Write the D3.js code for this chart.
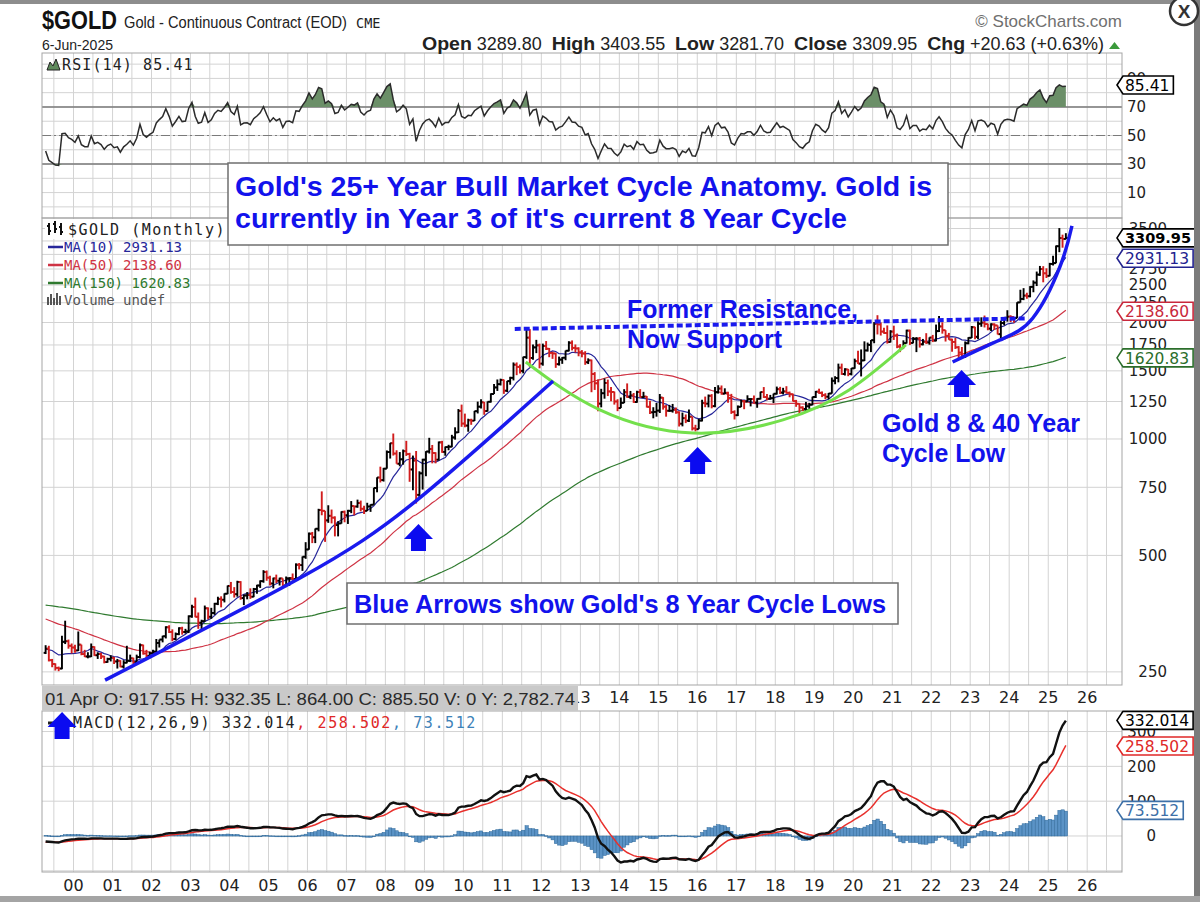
<!DOCTYPE html>
<html>
<head>
<meta charset="utf-8">
<script src="https://cdn.jsdelivr.net/npm/d3@7"></script>
<style>
    body { margin: 0; background: #fff; }
    svg { display: block; font-family: "Liberation Sans", Arial, sans-serif; }
    .mono { font-family: "DejaVu Sans Mono", monospace; }
    .axis-num { font-family: "DejaVu Sans", sans-serif; fill: #222; }
</style>
</head>
<body>
<div id="chart"></div>
<script>

// monthly closes used only to warm up MA(150), RSI and MACD (Jan 1986 - Mar 1999)
const warmupCloses = [
    345, 339, 345, 340, 343, 345, 357, 385, 424, 402, 386, 391,
    405, 405, 421, 453, 451, 448, 463, 453, 460, 468, 492, 484,
    458, 426, 457, 451, 455, 436, 437, 430, 397, 412, 421, 410,
    394, 387, 384, 377, 361, 373, 368, 359, 366, 375, 409, 401,
    415, 407, 368, 367, 363, 352, 372, 387, 408, 380, 384, 386,
    366, 363, 356, 357, 361, 368, 362, 347, 354, 358, 366, 353,
    354, 353, 341, 336, 337, 343, 357, 340, 349, 339, 334, 333,
    330, 327, 337, 355, 378, 378, 401, 372, 355, 369, 370, 391,
    378, 381, 390, 376, 387, 386, 384, 385, 395, 383, 383, 383,
    375, 376, 392, 390, 385, 387, 383, 383, 384, 382, 387, 387,
    405, 400, 396, 392, 390, 382, 386, 387, 379, 379, 371, 369,
    345, 358, 348, 340, 345, 334, 326, 325, 332, 311, 296, 290,
    304, 297, 301, 310, 293, 296, 288, 273, 293, 292, 294, 288,
    287, 288, 280
]

// plotted monthly bars, Apr 1999 - Jun 2025
const firstMonth = "1999-04"
const closes = [
    287, 268, 262, 256, 255, 299, 300, 292, 289,
    284, 294, 278, 274, 274, 290, 276, 278, 274, 265, 270, 272,
    266, 267, 258, 264, 267, 271, 265, 273, 293, 279, 275, 279,
    282, 297, 303, 309, 326, 317, 304, 313, 324, 317, 318, 348,
    368, 347, 335, 338, 365, 347, 355, 375, 386, 384, 398, 417,
    402, 397, 427, 388, 394, 395, 391, 409, 418, 429, 453, 438,
    423, 436, 430, 436, 418, 436, 437, 434, 473, 472, 496, 518,
    569, 557, 586, 655, 652, 616, 633, 626, 599, 605, 648, 635,
    652, 671, 669, 683, 660, 652, 669, 676, 747, 795, 783, 838,
    925, 975, 917, 863, 886, 930, 914, 834, 880, 717, 815, 884,
    928, 942, 920, 884, 980, 926, 953, 955, 1009, 1040, 1182, 1096,
    1083, 1118, 1115, 1180, 1212, 1244, 1181, 1248, 1307, 1359, 1386, 1421,
    1333, 1411, 1439, 1556, 1536, 1500, 1628, 1828, 1620, 1725, 1746, 1566,
    1740, 1711, 1669, 1664, 1561, 1604, 1622, 1691, 1773, 1720, 1714, 1675,
    1663, 1579, 1597, 1472, 1393, 1234, 1313, 1396, 1327, 1323, 1250, 1202,
    1240, 1321, 1284, 1296, 1246, 1322, 1283, 1287, 1211, 1172, 1175, 1184,
    1279, 1212, 1183, 1183, 1190, 1172, 1095, 1132, 1115, 1142, 1065, 1060,
    1116, 1238, 1234, 1293, 1216, 1321, 1350, 1309, 1316, 1277, 1174, 1152,
    1211, 1252, 1249, 1268, 1268, 1242, 1270, 1322, 1283, 1271, 1275, 1309,
    1345, 1318, 1327, 1316, 1305, 1253, 1233, 1206, 1196, 1215, 1226, 1284,
    1325, 1316, 1298, 1286, 1311, 1414, 1437, 1529, 1472, 1513, 1473, 1523,
    1589, 1566, 1596, 1694, 1751, 1800, 1986, 1978, 1895, 1879, 1781, 1895,
    1850, 1734, 1716, 1769, 1906, 1771, 1817, 1818, 1757, 1784, 1776, 1829,
    1796, 1900, 1954, 1911, 1848, 1807, 1782, 1726, 1672, 1640, 1768, 1826,
    1945, 1837, 1986, 1999, 1982, 1929, 1978, 1966, 1866, 1994, 2057, 2071,
    2067, 2054, 2254, 2302, 2348, 2339, 2473, 2536, 2660, 2749, 2681, 2641,
    2835, 2848, 3150, 3306, 3289, 3310
]
const highs = [
    293, 292, 270, 263, 258, 310, 339, 303, 296,
    294, 318, 294, 285, 281, 296, 291, 281, 280, 275, 272, 276,
    273, 270, 268, 268, 292, 277, 272, 277, 296, 294, 285, 282,
    285, 304, 303, 310, 328, 330, 322, 316, 326, 327, 323, 350,
    373, 389, 356, 341, 371, 367, 366, 377, 391, 392, 399, 418,
    427, 414, 430, 429, 396, 402, 411, 412, 420, 431, 458, 457,
    443, 438, 446, 438, 436, 441, 439, 449, 477, 478, 497, 541,
    573, 575, 587, 660, 732, 652, 674, 657, 631, 613, 650, 653,
    656, 691, 672, 697, 693, 672, 684, 678, 748, 796, 848, 842,
    934, 977, 1033, 935, 925, 939, 989, 921, 906, 931, 825, 889,
    930, 1007, 965, 924, 985, 989, 956, 966, 1025, 1072, 1195, 1227,
    1163, 1128, 1128, 1182, 1249, 1266, 1246, 1250, 1312, 1388, 1425, 1432,
    1424, 1413, 1448, 1577, 1577, 1557, 1632, 1917, 1923, 1755, 1804, 1764,
    1764, 1791, 1719, 1682, 1669, 1633, 1629, 1693, 1790, 1798, 1755, 1726,
    1697, 1686, 1616, 1604, 1489, 1425, 1348, 1434, 1424, 1362, 1326, 1267,
    1280, 1345, 1392, 1331, 1315, 1332, 1345, 1324, 1291, 1255, 1208, 1239,
    1307, 1283, 1224, 1225, 1232, 1206, 1179, 1170, 1157, 1192, 1143, 1088,
    1128, 1263, 1287, 1303, 1306, 1362, 1377, 1375, 1352, 1325, 1308, 1186,
    1221, 1264, 1261, 1297, 1275, 1296, 1275, 1325, 1362, 1306, 1300, 1310,
    1366, 1364, 1356, 1369, 1326, 1310, 1262, 1236, 1215, 1247, 1240, 1286,
    1331, 1349, 1327, 1313, 1315, 1442, 1453, 1566, 1566, 1524, 1517, 1526,
    1613, 1691, 1704, 1788, 1775, 1802, 2005, 2089, 2001, 1940, 1966, 1911,
    1963, 1873, 1759, 1799, 1917, 1917, 1834, 1833, 1835, 1814, 1877, 1831,
    1858, 1976, 2078, 2003, 1909, 1880, 1817, 1824, 1738, 1729, 1787, 1833,
    1959, 1949, 2014, 2063, 2085, 1987, 1990, 1991, 1954, 2022, 2067, 2152,
    2088, 2068, 2256, 2431, 2454, 2388, 2484, 2570, 2709, 2801, 2797, 2762,
    2853, 2974, 3163, 3509, 3374, 3404
]
const lows = [
    278, 266, 257, 252, 251, 254, 295, 287, 279,
    280, 283, 276, 273, 271, 273, 275, 270, 270, 263, 264, 266,
    262, 255, 257, 255, 263, 265, 262, 264, 271, 277, 271, 271,
    277, 281, 289, 298, 305, 315, 300, 302, 311, 312, 314, 315,
    345, 346, 323, 320, 337, 342, 343, 351, 372, 367, 378, 397,
    398, 389, 391, 384, 372, 385, 386, 390, 398, 412, 425, 430,
    418, 411, 424, 418, 414, 414, 417, 430, 432, 460, 456, 490,
    517, 538, 538, 577, 635, 542, 607, 605, 560, 560, 604, 609,
    603, 643, 635, 664, 650, 640, 651, 648, 676, 728, 772, 776,
    840, 890, 906, 867, 850, 858, 904, 775, 737, 681, 700, 740,
    801, 917, 865, 865, 880, 921, 905, 935, 952, 996, 1036, 1075,
    1072, 1044, 1088, 1113, 1164, 1198, 1155, 1177, 1242, 1308, 1331, 1375,
    1308, 1322, 1381, 1417, 1462, 1477, 1478, 1611, 1534, 1603, 1667, 1523,
    1547, 1698, 1627, 1611, 1527, 1548, 1564, 1598, 1684, 1694, 1673, 1636,
    1626, 1555, 1562, 1321, 1339, 1180, 1207, 1271, 1291, 1251, 1227, 1180,
    1202, 1238, 1277, 1268, 1240, 1240, 1281, 1276, 1206, 1161, 1131, 1142,
    1167, 1191, 1142, 1175, 1170, 1162, 1077, 1078, 1099, 1107, 1052, 1046,
    1062, 1110, 1208, 1207, 1200, 1207, 1310, 1302, 1306, 1241, 1161, 1123,
    1146, 1209, 1194, 1245, 1214, 1237, 1204, 1265, 1277, 1260, 1264, 1238,
    1303, 1307, 1303, 1310, 1282, 1250, 1211, 1160, 1180, 1182, 1197, 1222,
    1276, 1308, 1283, 1267, 1267, 1310, 1385, 1401, 1465, 1459, 1453, 1460,
    1519, 1563, 1451, 1590, 1683, 1677, 1768, 1863, 1851, 1871, 1764, 1776,
    1803, 1717, 1677, 1714, 1765, 1750, 1767, 1677, 1723, 1746, 1761, 1753,
    1780, 1788, 1890, 1872, 1786, 1805, 1681, 1709, 1615, 1618, 1620, 1757,
    1824, 1811, 1810, 1950, 1942, 1910, 1902, 1913, 1863, 1823, 1966, 2010,
    2006, 1996, 2052, 2251, 2285, 2304, 2324, 2395, 2485, 2640, 2541, 2607,
    2633, 2807, 2856, 3040, 3122, 3282
]

// axis ticks (3000 and 3250 sit under the value tags, so they only get gridlines)
const priceGrid = [250, 500, 750, 1000, 1250, 1500, 1750, 2000, 2250, 2500, 2750, 3000, 3250, 3500]
const priceLabels = [250, 500, 750, 1000, 1250, 1500, 1750, 2000, 2250, 2500, 2750, 3500]
const rsiTicks = [10, 30, 50, 70, 90]
const macdTicks = [0, 100, 200, 300]

// last values shown in the tags on the right
const priceTags = [["3309.95", 3309.95, "#000", true], ["2931.13", 2931.13, "#23238f", false],
                   ["2138.60", 2138.60, "#c8283c", false], ["1620.83", 1620.83, "#2b6e2b", false]]
const rsiTags = [["85.41", 85.41, "#000"]]
const macdTags = [["332.014", 332.014, "#000"], ["258.502", 258.502, "#e02828"], ["73.512", 73.512, "#3d70a8"]]

// hand drawn annotations, in (date, price) space
const cycleLine1 = [["2000-10-23", 238], ["2005-10-23", 437], ["2008-10-23", 695], ["2012-04-20", 1412]]
const cycleLine2 = [["2022-07-20", 1581], ["2023-10-08", 1803], ["2024-08-10", 2055], ["2025-04-20", 2784], ["2025-08-11", 3553]]
const roundingBottom = [["2011-08-08", 1581], ["2013-07-02", 1189], ["2015-11-24", 1036], ["2018-03-14", 1120], ["2019-11-24", 1339], ["2021-05-08", 1750]]
const resistanceLine = [["2011-04-27", 1925], ["2024-06-10", 2050]]
const cycleLowArrows = [["2008-11-06", 603], ["2016-01-04", 953], ["2022-10-12", 1508]]
const macdArrow = [["1999-09-16", 356]]

const parseDay = d3.timeParse("%Y-%m-%d")

function sma(vals, n) {
    return vals.map((v, i) => i < n - 1 ? null : d3.mean(vals.slice(i - n + 1, i + 1)))
}
function ema(vals, n) {
    const k = 2 / (n + 1)
    let prev = null
    return vals.map(v => {
        if (v == null) return null
        prev = prev == null ? v : v * k + prev * (1 - k)
        return prev
    })
}
function rsi(vals, n) {
    const out = vals.map(() => null)
    let g = 0, l = 0
    for (let i = 1; i <= n; i++) {
        const d = vals[i] - vals[i - 1]
        if (d > 0) g += d; else l -= d
    }
    g /= n; l /= n
    out[n] = 100 - 100 / (1 + g / l)
    for (let i = n + 1; i < vals.length; i++) {
        const d = vals[i] - vals[i - 1]
        g = (g * (n - 1) + Math.max(d, 0)) / n
        l = (l * (n - 1) + Math.max(-d, 0)) / n
        out[i] = l === 0 ? 100 : 100 - 100 / (1 + g / l)
    }
    return out
}

function drawChart() {
    const width = 1200
    const height = 902
    const plot = { left: 42, right: 1122 }
    const rsiBox = { top: 53, bottom: 218 }
    const priceBox = { top: 218, bottom: 685 }
    const macdBox = { top: 711, bottom: 872 }
    const annoBlue = "#1212ec"
    const hoverBarEnd = 578

    const svg = d3.select("#chart").append("svg")
        .attr("width", width)
        .attr("height", height)

    // indicators on the full history, then keep the plotted window
    const allCloses = warmupCloses.concat(closes)
    const off = warmupCloses.length
    const start = d3.timeParse("%Y-%m")(firstMonth)
    const months = closes.map((c, i) => d3.timeMonth.offset(start, i))
    const mid = d => d3.timeDay.offset(d, 14)

    const ma10 = sma(allCloses, 10).slice(off)
    const ma50 = sma(allCloses, 50).slice(off)
    const ma150 = sma(allCloses, 150).slice(off)
    const rsiVals = rsi(allCloses, 14).slice(off)
    const e12 = ema(allCloses, 12), e26 = ema(allCloses, 26)
    const macdAll = e12.map((v, i) => v - e26[i])
    const sigAll = ema(macdAll, 9)
    const macdVals = macdAll.slice(off)
    const sigVals = sigAll.slice(off)
    const histVals = macdVals.map((v, i) => v - sigVals[i])

    // scales
    const x = d3.scaleTime()
        .domain([new Date(1999, 2, 12), new Date(2026, 10, 23)])
        .range([plot.left, plot.right])
    const yRsi = d3.scaleLinear().domain([-7.8, 107.8]).range([rsiBox.bottom, rsiBox.top])
    const yPrice = d3.scaleLog().domain([231.2, 3726]).range([priceBox.bottom, priceBox.top])
    const yMacd = d3.scaleLinear().domain([-103.4, 359]).range([macdBox.bottom, macdBox.top])

    const gridDates = d3.timeMonth.every(6).range(x.domain()[0], x.domain()[1])
    const yearDates = d3.timeYear.range(new Date(2000, 0, 1), new Date(2027, 0, 1))

    const defs = svg.append("defs")
    function panel(box, id, hTicks, yScale) {
        defs.append("clipPath").attr("id", id)
            .append("rect").attr("x", plot.left).attr("y", box.top)
            .attr("width", plot.right - plot.left).attr("height", box.bottom - box.top)
        const g = svg.append("g")
        g.append("rect").attr("x", plot.left).attr("y", box.top)
            .attr("width", plot.right - plot.left).attr("height", box.bottom - box.top)
            .attr("fill", "#fff")
        g.selectAll(".vgrid").data(gridDates).join("line")
            .attr("x1", d => x(d)).attr("x2", d => x(d))
            .attr("y1", box.top).attr("y2", box.bottom)
            .attr("stroke", "#d3d3d3").attr("stroke-width", 1)
        g.selectAll(".hgrid").data(hTicks).join("line")
            .attr("x1", plot.left).attr("x2", plot.right)
            .attr("y1", d => yScale(d)).attr("y2", d => yScale(d))
            .attr("stroke", "#d3d3d3").attr("stroke-width", 1)
        return g
    }

    // ---------- RSI panel ----------
    panel(rsiBox, "clip-rsi", d3.range(0, 101, 10), yRsi)
    const rsiPlot = svg.append("g").attr("clip-path", "url(#clip-rsi)")
    ;[70, 30].forEach(v => rsiPlot.append("line")
        .attr("x1", plot.left).attr("x2", plot.right)
        .attr("y1", yRsi(v)).attr("y2", yRsi(v))
        .attr("stroke", "#7a7a7a").attr("stroke-width", 1.4))
    rsiPlot.append("line")
        .attr("x1", plot.left).attr("x2", plot.right)
        .attr("y1", yRsi(50)).attr("y2", yRsi(50))
        .attr("stroke", "#7a7a7a").attr("stroke-width", 1.2)
        .attr("stroke-dasharray", "9,3,2,3")
    rsiPlot.append("path")
        .datum(rsiVals)
        .attr("d", d3.area()
            .x((d, i) => x(mid(months[i])))
            .y0(yRsi(70))
            .y1(d => yRsi(Math.max(d, 70))))
        .attr("fill", "#6b8f68")
    rsiPlot.append("path")
        .datum(rsiVals)
        .attr("d", d3.area()
            .x((d, i) => x(mid(months[i])))
            .y0(yRsi(30))
            .y1(d => yRsi(Math.min(d, 30))))
        .attr("fill", "#6b8f68")
    rsiPlot.append("path")
        .datum(rsiVals)
        .attr("d", d3.line().x((d, i) => x(mid(months[i]))).y(d => yRsi(d)))
        .attr("fill", "none").attr("stroke", "#2b2b2b").attr("stroke-width", 1.5)

    // ---------- price panel ----------
    panel(priceBox, "clip-price", priceGrid, yPrice)
    const pricePlot = svg.append("g").attr("clip-path", "url(#clip-price)")

    const maLine = d3.line()
        .defined(d => d != null)
        .x((d, i) => x(mid(months[i])))
        .y(d => yPrice(d))
    ;[[ma150, "#2f7a2f"], [ma50, "#cf3344"], [ma10, "#26269a"]].forEach(([vals, col]) =>
        pricePlot.append("path").datum(vals).attr("d", maLine)
            .attr("fill", "none").attr("stroke", col).attr("stroke-width", 1.2))

    const bars = closes.map((c, i) => {
        const o = allCloses[off + i - 1]
        return {
            date: mid(months[i]), open: o, close: c,
            high: Math.max(highs[i], o, c), low: Math.min(lows[i], o, c),
            up: c >= o
        }
    })
    const barG = pricePlot.selectAll(".bar").data(bars).join("g")
        .attr("stroke", d => d.up ? "#000" : "#d11d1d")
        .attr("stroke-width", 1.9)
    barG.append("line")
        .attr("x1", d => x(d.date)).attr("x2", d => x(d.date))
        .attr("y1", d => yPrice(d.high)).attr("y2", d => yPrice(d.low))
    barG.append("line")
        .attr("x1", d => x(d.date) - 2).attr("x2", d => x(d.date))
        .attr("y1", d => yPrice(d.open)).attr("y2", d => yPrice(d.open))
    barG.append("line")
        .attr("x1", d => x(d.date)).attr("x2", d => x(d.date) + 2)
        .attr("y1", d => yPrice(d.close)).attr("y2", d => yPrice(d.close))

    // annotations on the price panel
    const annoLine = d3.line()
        .x(d => x(parseDay(d[0])))
        .y(d => yPrice(d[1]))
        .curve(d3.curveNatural)
    pricePlot.append("path").datum(roundingBottom).attr("d", annoLine)
        .attr("fill", "none").attr("stroke", "#74e04c").attr("stroke-width", 3)
    pricePlot.append("path").datum(cycleLine1).attr("d", annoLine)
        .attr("fill", "none").attr("stroke", "#1a1aee").attr("stroke-width", 3.5)
    pricePlot.append("path").datum(cycleLine2).attr("d", annoLine)
        .attr("fill", "none").attr("stroke", "#1a1aee").attr("stroke-width", 3.5)
    pricePlot.append("path").datum(resistanceLine).attr("d", d3.line()
            .x(d => x(parseDay(d[0]))).y(d => yPrice(d[1])))
        .attr("fill", "none").attr("stroke", "#1a1aee").attr("stroke-width", 4)
        .attr("stroke-dasharray", "6,3")

    const arrowPath = "M0,0 L14.5,15 L7.5,15 L7.5,27 L-7.5,27 L-7.5,15 L-14.5,15 Z"
    svg.selectAll(".cycle-arrow").data(cycleLowArrows).join("path")
        .attr("d", arrowPath)
        .attr("transform", d => `translate(${x(parseDay(d[0]))},${yPrice(d[1])})`)
        .attr("fill", "#0b0bf0")

    // ---------- MACD panel ----------
    panel(macdBox, "clip-macd", [-100, 0, 100, 200, 300], yMacd)
    const macdPlot = svg.append("g").attr("clip-path", "url(#clip-macd)")
    macdPlot.selectAll(".hist").data(histVals).join("rect")
        .attr("x", (d, i) => x(months[i]))
        .attr("width", (d, i) => x(d3.timeMonth.offset(months[i], 1)) - x(months[i]))
        .attr("y", d => Math.min(yMacd(0), yMacd(d)))
        .attr("height", d => Math.max(0.8, Math.abs(yMacd(d) - yMacd(0))))
        .attr("fill", "#5b93c6").attr("stroke", "#2f6999").attr("stroke-width", 0.5)
    macdPlot.append("path").datum(sigVals)
        .attr("d", d3.line().x((d, i) => x(mid(months[i]))).y(d => yMacd(d)))
        .attr("fill", "none").attr("stroke", "#e8302c").attr("stroke-width", 1.5)
    macdPlot.append("path").datum(macdVals)
        .attr("d", d3.line().x((d, i) => x(mid(months[i]))).y(d => yMacd(d)))
        .attr("fill", "none").attr("stroke", "#111").attr("stroke-width", 2.4)

    // panel borders
    ;[rsiBox, priceBox, macdBox].forEach(b => svg.append("rect")
        .attr("x", plot.left).attr("y", b.top)
        .attr("width", plot.right - plot.left).attr("height", b.bottom - b.top)
        .attr("fill", "none").attr("stroke", "#a5a5a5").attr("stroke-width", 1))

    // ---------- axes ----------
    const axisG = svg.append("g")
    // the upper row is mostly hidden by the readout bar, so only the years to its right are drawn
    axisG.selectAll(".xtop").data(yearDates.filter(d => x(d) > hoverBarEnd - 10)).join("text")
        .attr("class", "axis-num")
        .attr("x", d => x(d)).attr("y", 703)
        .attr("text-anchor", "middle").attr("font-size", 16)
        .text(d3.timeFormat("%y"))
    axisG.selectAll(".xbot").data(yearDates).join("text")
        .attr("class", "axis-num")
        .attr("x", d => x(d)).attr("y", 891)
        .attr("text-anchor", "middle").attr("font-size", 16)
        .text(d3.timeFormat("%y"))

    axisG.selectAll(".ptick").data(priceLabels).join("text")
        .attr("class", "axis-num")
        .attr("x", 1167).attr("y", d => yPrice(d)).attr("dy", "0.36em")
        .attr("text-anchor", "end").attr("font-size", 15)
        .text(d => d)
    axisG.selectAll(".rtick").data(rsiTicks).join("text")
        .attr("class", "axis-num")
        .attr("x", 1127).attr("y", d => yRsi(d)).attr("dy", "0.36em")
        .attr("font-size", 15)
        .text(d => d)
    axisG.selectAll(".mtick").data(macdTicks).join("text")
        .attr("class", "axis-num")
        .attr("x", 1156).attr("y", d => yMacd(d)).attr("dy", "0.36em")
        .attr("text-anchor", "end").attr("font-size", 15)
        .text(d => d)

    // value tags
    function drawTag(yPos, label, color, bold) {
        const g = svg.append("g")
        const t = g.append("text")
            .attr("class", "axis-num")
            .attr("x", 1125).attr("y", yPos).attr("dy", "0.37em")
            .attr("font-size", bold ? 14.5 : 15.5)
            .attr("font-weight", bold ? "bold" : null)
            .style("fill", color)
            .text(label)
        const w = t.node().getComputedTextLength()
        g.insert("path", "text")
            .attr("d", `M1117,${yPos} L1123,${yPos - 9} H${1129 + w} V${yPos + 9} H1123 Z`)
            .attr("fill", "#fff").attr("stroke", color).attr("stroke-width", 1.6)
    }
    rsiTags.forEach(d => drawTag(yRsi(d[1]), d[0], d[2], false))
    priceTags.forEach(d => drawTag(yPrice(d[1]), d[0], d[2], d[3]))
    macdTags.forEach(d => drawTag(yMacd(d[1]), d[0], d[2], false))

    // hover readout bar
    svg.append("rect").attr("x", plot.left).attr("y", 686)
        .attr("width", hoverBarEnd - plot.left).attr("height", 25).attr("fill", "#c9c9c9")
    svg.append("text").attr("x", 45).attr("y", 705)
        .attr("font-size", 16).attr("fill", "#2a2a2a")
        .attr("textLength", 530).attr("lengthAdjust", "spacingAndGlyphs")
        .text("01 Apr O: 917.55   H: 932.35   L: 864.00   C: 885.50   V: 0   Y: 2,782.74")

    // ---------- legends ----------
    svg.append("path")
        .attr("d", "M47,70 L50,62 L53,66 L56,59 L60,70 Z")
        .attr("fill", "#5f8a5c").attr("stroke", "#222").attr("stroke-width", 1)
    svg.append("text").attr("class", "mono").attr("x", 62).attr("y", 70)
        .attr("font-size", 15).attr("letter-spacing", 1.1).attr("fill", "#222")
        .text("RSI(14) 85.41")

    svg.append("rect").attr("x", 45).attr("y", 219).attr("width", 183).attr("height", 20).attr("fill", "#fff")
    svg.append("path")
        .attr("d", "M49,223 V235 M47,226 H49 M49,231 H51 M55,221 V233 M53,224 H55 M55,229 H57 M61,223 V235 M59,227 H61 M61,232 H63")
        .attr("stroke", "#111").attr("stroke-width", 2).attr("fill", "none")
    svg.append("text").attr("class", "mono").attr("x", 68).attr("y", 235)
        .attr("font-size", 15).attr("letter-spacing", 1.5).attr("fill", "#222")
        .text("$GOLD (Monthly)")
    const maLegend = [["MA(10) 2931.13", "#26269a"], ["MA(50) 2138.60", "#cf3344"], ["MA(150) 1620.83", "#2f7a2f"]]
    maLegend.forEach(([label, col], i) => {
        const yy = 247 + i * 18
        svg.append("line").attr("x1", 48).attr("x2", 63).attr("y1", yy).attr("y2", yy)
            .attr("stroke", col).attr("stroke-width", 2.5)
        svg.append("text").attr("class", "mono").attr("x", 64).attr("y", yy + 5)
            .attr("font-size", 14).attr("fill", col).text(label)
    })
    svg.append("path")
        .attr("d", "M48,305 V297 M51,305 V294 M54,305 V298 M57,305 V293 M60,305 V296")
        .attr("stroke", "#555").attr("stroke-width", 2)
    svg.append("text").attr("class", "mono").attr("x", 64).attr("y", 305)
        .attr("font-size", 14).attr("fill", "#555").text("Volume undef")

    const macdLegend = svg.append("text").attr("class", "mono").attr("x", 73).attr("y", 728)
        .attr("font-size", 15).attr("letter-spacing", 1.6)
    macdLegend.append("tspan").attr("fill", "#222").text("MACD(12,26,9) 332.014")
    macdLegend.append("tspan").attr("fill", "#e02828").text(", 258.502")
    macdLegend.append("tspan").attr("fill", "#3d82b8").text(", 73.512")
    svg.append("line").attr("x1", 48).attr("x2", 62).attr("y1", 723).attr("y2", 723)
        .attr("stroke", "#222").attr("stroke-width", 3)

    svg.selectAll(".macd-arrow").data(macdArrow).join("path")
        .attr("d", arrowPath)
        .attr("transform", d => `translate(${x(parseDay(d[0]))},${yMacd(d[1])})`)
        .attr("fill", "#0b0bf0")

    // ---------- text annotations ----------
    function annoText(str, xx, yy, size, len) {
        svg.append("text").attr("x", xx).attr("y", yy)
            .attr("font-size", size).attr("font-weight", "bold").attr("fill", annoBlue)
            .attr("textLength", len).attr("lengthAdjust", "spacingAndGlyphs")
            .text(str)
    }
    svg.append("rect").attr("x", 228).attr("y", 163).attr("width", 720).attr("height", 82)
        .attr("fill", "#fff").attr("stroke", "#6f6f6f").attr("stroke-width", 1.5)
    annoText("Gold's 25+ Year Bull Market Cycle Anatomy. Gold is", 235, 196, 27, 697)
    annoText("currently in Year 3 of it's current 8 Year Cycle", 235, 228, 27, 612)

    annoText("Former Resistance,", 627, 318, 25, 231)
    annoText("Now Support", 627, 348, 25, 155)

    svg.append("rect").attr("x", 347).attr("y", 583).attr("width", 551).attr("height", 41)
        .attr("fill", "#fff").attr("stroke", "#6f6f6f").attr("stroke-width", 1.5)
    annoText("Blue Arrows show Gold's 8 Year Cycle Lows", 354, 613, 25, 532)

    annoText("Gold 8 & 40 Year", 882, 432, 25, 198)
    annoText("Cycle Low", 882, 462, 25, 123)

    // ---------- header ----------
    svg.append("text").attr("x", 42).attr("y", 29)
        .attr("font-size", 26).attr("font-weight", "bold").attr("fill", "#111")
        .attr("textLength", 75).attr("lengthAdjust", "spacingAndGlyphs")
        .text("$GOLD")
    svg.append("text").attr("x", 124).attr("y", 28)
        .attr("font-size", 16).attr("fill", "#222")
        .attr("textLength", 223).attr("lengthAdjust", "spacingAndGlyphs")
        .text("Gold - Continuous Contract (EOD)")
    svg.append("text").attr("class", "mono").attr("x", 356).attr("y", 28)
        .attr("font-size", 13.5).attr("fill", "#222").text("CME")
    svg.append("text").attr("x", 42).attr("y", 50)
        .attr("font-size", 15).attr("fill", "#222")
        .attr("textLength", 71).attr("lengthAdjust", "spacingAndGlyphs")
        .text("6-Jun-2025")
    svg.append("text").attr("x", 1122).attr("y", 27)
        .attr("text-anchor", "end").attr("font-size", 17).attr("fill", "#707070")
        .text("\u00A9 StockCharts.com")

    const quote = svg.append("text").attr("x", 422).attr("y", 50)
        .attr("font-size", 17.5).attr("fill", "#222")
        .attr("textLength", 682).attr("lengthAdjust", "spacingAndGlyphs")
    const parts = [["Open", " 3289.80  "], ["High", " 3403.55  "], ["Low", " 3281.70  "],
                   ["Close", " 3309.95  "], ["Chg", " +20.63 (+0.63%)"]]
    parts.forEach(([k, v]) => {
        quote.append("tspan").attr("font-weight", "bold").attr("font-size", 19).text(k)
        quote.append("tspan").attr("xml:space", "preserve").text(v)
    })
    svg.append("path").attr("d", "M1109,49 L1114.5,42 L1120,49 Z").attr("fill", "#3b9a3b")

    // ---------- window frame ----------
    svg.append("rect").attr("x", 0).attr("y", 0).attr("width", width).attr("height", 4).attr("fill", "#8d8d8d")
    svg.append("rect").attr("x", 1194).attr("y", 0).attr("width", 6).attr("height", height).attr("fill", "#7b7b7b")
    svg.append("rect").attr("x", 0).attr("y", 896).attr("width", width).attr("height", 6).attr("fill", "#a4a4a4")
    svg.append("circle").attr("cx", 1184).attr("cy", 11).attr("r", 14)
        .attr("fill", "#fff").attr("stroke", "#333").attr("stroke-width", 2.5)
    svg.append("text").attr("x", 1184).attr("y", 18).attr("text-anchor", "middle")
        .attr("font-size", 19).attr("font-weight", "bold").attr("fill", "#333").text("X")
}

drawChart()
</script>
</body>
</html>
